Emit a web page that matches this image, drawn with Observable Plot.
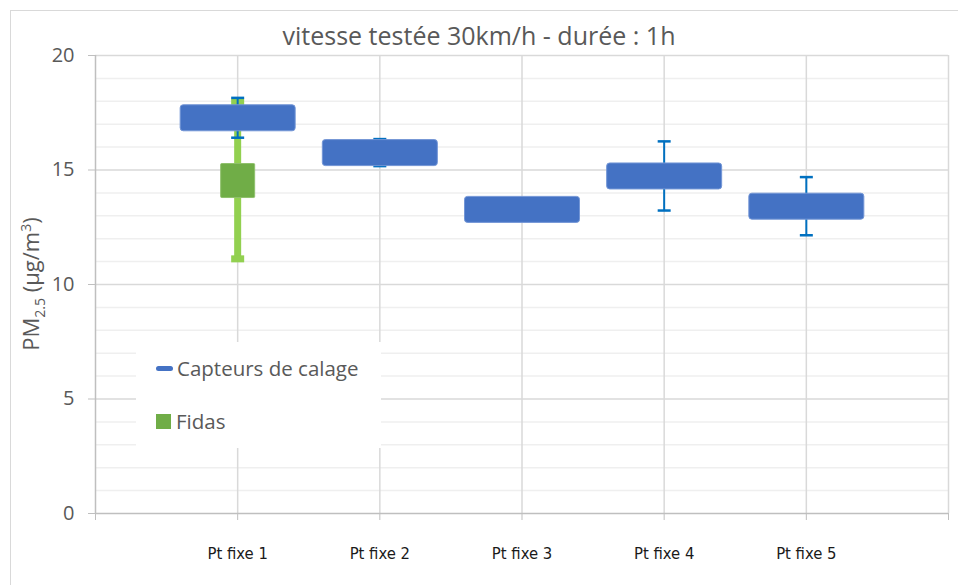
<!DOCTYPE html>
<html>
<head>
<meta charset="utf-8">
<script src="https://cdn.jsdelivr.net/npm/d3@7"></script>
<script src="https://cdn.jsdelivr.net/npm/@observablehq/plot@0.6"></script>
<style>
  html, body { margin: 0; padding: 0; background: #fff; }
  #wrap { position: relative; width: 958px; height: 585px; overflow: hidden; font-family: "Open Sans", sans-serif; color: #595959; }
  #frame { position: absolute; left: 10px; top: 10px; width: 1000px; height: 1000px; border-left: 1px solid #d9d9d9; border-top: 1px solid #d9d9d9; }
  #title { position: absolute; left: 0; width: 958px; top: 18px; text-align: center; font-size: 25px; line-height: 34px; color: #595959; }
  #ytitle { position: absolute; left: 32px; top: 284px; transform: translate(-50%, -50%) rotate(-90deg); white-space: nowrap; font-size: 22px; color: #595959; }
  #ytitle sub, #ytitle sup { font-size: 14px; }
  #chart { position: absolute; left: 0; top: 0; }
  #legend { position: absolute; left: 136px; top: 342px; width: 245px; height: 106px; background: #fff; }
  .item { position: absolute; left: 20px; font-size: 20.5px; line-height: 26px; display: flex; align-items: center; color: #595959; }
  .sw { display: inline-block; margin-right: 5px; }
</style>
</head>
<body>
<div id="wrap">
  <div id="frame"></div>
  <div id="chart"></div>
  <div id="title">vitesse testée 30km/h - durée : 1h</div>
  <div id="ytitle">PM<sub>2.5</sub> (µg/m<sup>3</sup>)</div>
  <div id="legend"></div>
</div>
<script>
// ---- data ----
const categories = ["Pt fixe 1", "Pt fixe 2", "Pt fixe 3", "Pt fixe 4", "Pt fixe 5"];
const seriesNames = ["Capteurs de calage", "Fidas"];
const capteursMean = [17.28, 15.76, 13.28, 14.74, 13.42];
const capteursErr = [0.87, 0.59, 0.45, 1.51, 1.27];
const fidasCategories = ["Pt fixe 1"];
const fidasMean = [14.54];
const fidasErr = [3.42];
const yTicks = [0, 5, 10, 15, 20];

const colors = { capteurs: "#4472C4", capteursErr: "#0070C0", fidas: "#70AD47", fidasErr: "#92D050" };

const capteurs = categories.map((c, i) => ({ cat: c, idx: i + 1, mean: capteursMean[i], err: capteursErr[i] }));
const fidas = fidasCategories.map((c, i) => ({ cat: c, idx: categories.indexOf(c) + 1, mean: fidasMean[i], err: fidasErr[i] }));

function roundRect(w, h, r) {
  return { draw(ctx) {
    const x0 = -w / 2, x1 = w / 2, y0 = -h / 2, y1 = h / 2;
    ctx.moveTo(x0 + r, y0);
    ctx.lineTo(x1 - r, y0); ctx.arcTo(x1, y0, x1, y0 + r, r);
    ctx.lineTo(x1, y1 - r); ctx.arcTo(x1, y1, x1 - r, y1, r);
    ctx.lineTo(x0 + r, y1); ctx.arcTo(x0, y1, x0, y1 - r, r);
    ctx.lineTo(x0, y0 + r); ctx.arcTo(x0, y0, x0 + r, y0, r);
    ctx.closePath();
  }};
}
const hline = (w) => ({ draw(ctx) { ctx.moveTo(-w / 2, 0); ctx.lineTo(w / 2, 0); } });

const chart = Plot.plot({
  width: 958,
  height: 585,
  marginTop: 55,
  marginBottom: 72,
  marginLeft: 95,
  marginRight: 10,
  style: { fontFamily: "'Open Sans', sans-serif", fontSize: "20px", color: "#595959", background: "transparent", overflow: "visible" },
  x: { domain: [0, categories.length + 1], axis: null, label: null },
  y: { domain: [0, 20], axis: null, label: null },
  marks: [
    Plot.ruleY(d3.range(1, 20).filter(v => v % 5 !== 0), { stroke: "#efefef", strokeWidth: 1.5 }),
    Plot.ruleY(yTicks.slice(1), { stroke: "#d9d9d9", strokeWidth: 1.5 }),
    Plot.ruleX(d3.range(1, categories.length + 2), { stroke: "#d9d9d9", strokeWidth: 1.5 }),
    Plot.ruleY([0], { stroke: "#bfbfbf", strokeWidth: 1.5 }),
    Plot.ruleX([0], { stroke: "#bfbfbf", strokeWidth: 1.5 }),
    Plot.axisY({ ticks: yTicks, tickSize: 7, tickPadding: 14, stroke: "#bfbfbf", fill: "#595959", fontSize: 20, tickFormat: d => d, label: null }),
    Plot.axisX({ ticks: d3.range(0, categories.length + 2), tickSize: 7, stroke: "#bfbfbf", tickFormat: () => "", label: null }),
    Plot.axisX({ ticks: d3.range(1, categories.length + 1), tickSize: 0, tickPadding: 34, fill: "#1a1a1a",
      fontFamily: "'DejaVu Sans Condensed', 'Liberation Sans Narrow', sans-serif", fontSize: 16.5,
      tickFormat: i => categories[i - 1], label: null }),
    // Fidas
    Plot.ruleX(fidas, { x: "idx", y1: d => d.mean - d.err, y2: d => d.mean + d.err, stroke: colors.fidasErr, strokeWidth: 7 }),
    Plot.dot(fidas, { x: "idx", y: d => d.mean - d.err, symbol: roundRect(13, 7, 0), fill: colors.fidasErr, r: 4 }),
    Plot.dot(fidas, { x: "idx", y: d => d.mean + d.err, symbol: roundRect(13, 7, 0), fill: colors.fidasErr, r: 4 }),
    Plot.dot(fidas, { x: "idx", y: "mean", symbol: roundRect(34, 34, 1), fill: colors.fidas, stroke: "#8fc16c", strokeWidth: 1, r: 10 }),
    // Capteurs
    Plot.ruleX(capteurs, { x: "idx", y1: d => d.mean - d.err, y2: d => d.mean + d.err, stroke: colors.capteursErr, strokeWidth: 2 }),
    Plot.dot(capteurs, { x: "idx", y: d => d.mean - d.err, symbol: hline(13), stroke: colors.capteursErr, strokeWidth: 2.5, fill: "none", r: 4 }),
    Plot.dot(capteurs, { x: "idx", y: d => d.mean + d.err, symbol: hline(13), stroke: colors.capteursErr, strokeWidth: 2.5, fill: "none", r: 4 }),
    Plot.dot(capteurs, { x: "idx", y: "mean", symbol: roundRect(115, 26, 3), fill: colors.capteurs, stroke: "#7396d6", strokeWidth: 1, r: 10 })
  ]
});
document.getElementById("chart").appendChild(chart);

// legend
const legend = document.getElementById("legend");
legend.innerHTML =
  `<div class="item" style="top:13px"><span class="sw" style="width:17px;height:5px;border-radius:3px;background:${colors.capteurs};margin-right:4px"></span>${seriesNames[0]}</div>` +
  `<div class="item" style="top:66px"><span class="sw" style="width:15px;height:15px;background:${colors.fidas}"></span>${seriesNames[1]}</div>`;
</script>
</body>
</html>
